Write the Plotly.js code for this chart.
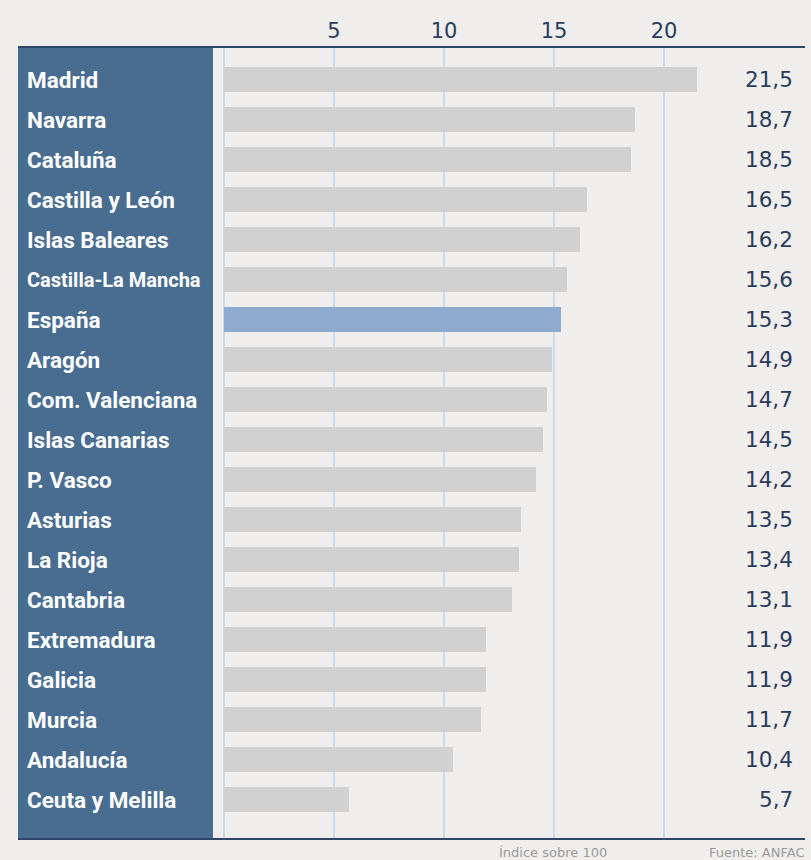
<!DOCTYPE html>
<html>
<head>
<meta charset="utf-8">
<script src="https://cdn.plot.ly/plotly-3.0.1.min.js"></script>
<style>
  html, body { margin: 0; padding: 0; background: #efeeec; }
  #chart { width: 811px; height: 860px; }
</style>
</head>
<body>
<div id="chart"></div>
<script>
// datos: índice sobre 100 por comunidad
const regions = ['Madrid', 'Navarra', 'Cataluña', 'Castilla y León', 'Islas Baleares',
  'Castilla-La Mancha', 'España', 'Aragón', 'Com. Valenciana', 'Islas Canarias',
  'P. Vasco', 'Asturias', 'La Rioja', 'Cantabria', 'Extremadura', 'Galicia',
  'Murcia', 'Andalucía', 'Ceuta y Melilla'];
const values = [21.5, 18.7, 18.5, 16.5, 16.2, 15.6, 15.3, 14.9, 14.7, 14.5,
  14.2, 13.5, 13.4, 13.1, 11.9, 11.9, 11.7, 10.4, 5.7];
const tickVals = [5, 10, 15, 20];
const highlight = 'España';

const navy = '#2c3c5d';
const labelFont = 'Roboto, "Noto Sans", sans-serif';
const numFont = '"DejaVu Sans", sans-serif';

const idx = regions.map((r, i) => i);

const trace = {
  type: 'bar',
  orientation: 'h',
  x: values,
  y: idx,
  width: 0.625,
  marker: { color: regions.map(r => r === highlight ? '#8eabcf' : '#d1d1d1') },
  hoverinfo: 'skip'
};

const annotations = [];
regions.forEach((r, i) => {
  annotations.push({
    x: -9.05, y: i, xref: 'x', yref: 'y', xanchor: 'left', yanchor: 'middle',
    text: '<b>' + r + '</b>', showarrow: false,
    font: { family: labelFont, size: r.length > 16 ? 20 : 22.5, color: '#ffffff' }
  });
  annotations.push({
    x: 25.95, y: i, xref: 'x', yref: 'y', xanchor: 'right', yanchor: 'middle',
    text: values[i].toFixed(1).replace('.', ','), showarrow: false,
    font: { family: numFont, size: 21.5, color: navy }
  });
});
// pie del gráfico
annotations.push({
  x: (609 - 18) / 787, y: -14 / 790, xref: 'paper', yref: 'paper',
  xanchor: 'right', yanchor: 'middle', showarrow: false,
  text: 'Índice sobre 100', font: { family: numFont, size: 13, color: '#9a9a9a' }
});
annotations.push({
  x: 1.003, y: -14 / 790, xref: 'paper', yref: 'paper',
  xanchor: 'right', yanchor: 'middle', showarrow: false,
  text: 'Fuente: ANFAC', font: { family: numFont, size: 13, color: '#9a9a9a' }
});

const layout = {
  width: 811, height: 860,
  margin: { l: 18, r: 6, t: 48, b: 22 },
  paper_bgcolor: '#efeeec',
  plot_bgcolor: '#efeeec',
  showlegend: false,
  bargap: 0,
  xaxis: {
    side: 'top',
    range: [-9.364, 26.41],
    tickvals: tickVals,
    ticktext: tickVals.map(String),
    ticks: '',
    showgrid: true,
    gridcolor: '#c9dcef',
    gridwidth: 1.5,
    zeroline: true,
    zerolinecolor: '#c9dcef',
    zerolinewidth: 1.5,
    showline: true,
    mirror: true,
    linecolor: '#2f4569',
    linewidth: 2,
    tickfont: { family: numFont, size: 21, color: navy },
    fixedrange: true
  },
  yaxis: {
    range: [18.9625, -0.7875],
    showticklabels: false,
    showgrid: false,
    zeroline: false,
    fixedrange: true
  },
  shapes: [{
    type: 'rect', xref: 'paper', yref: 'paper', layer: 'above',
    x0: 0, x1: (213 - 18) / 787, y0: 0, y1: 1,
    fillcolor: '#496d91', line: { width: 0 }
  }],
  annotations: annotations
};

Plotly.newPlot('chart', [trace], layout, { displayModeBar: false, staticPlot: true });
</script>
</body>
</html>
